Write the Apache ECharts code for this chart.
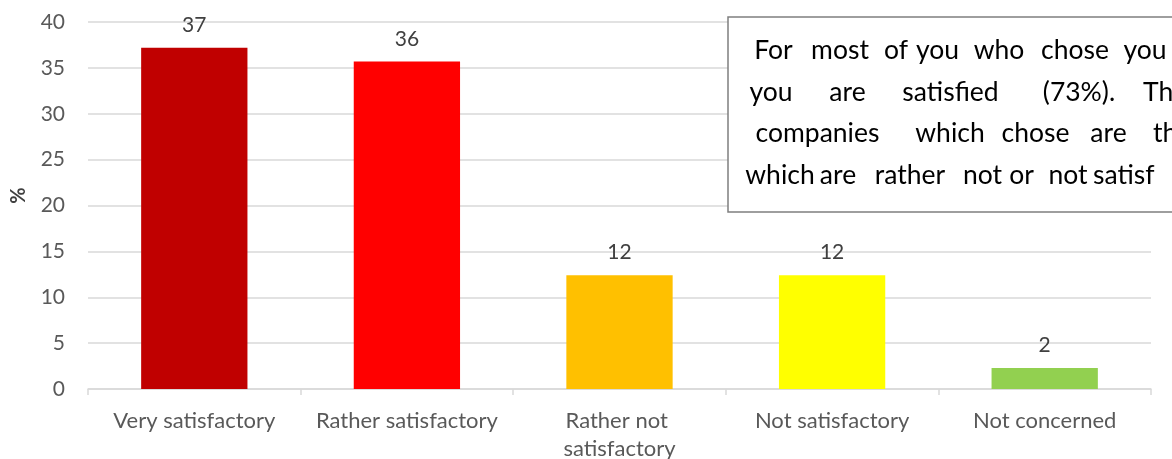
<!DOCTYPE html>
<html>
<head>
<meta charset="utf-8">
<style>
  html, body { margin: 0; padding: 0; background: #fff; }
  #chart { width: 1172px; height: 459px; }
</style>
<script src="https://cdn.jsdelivr.net/npm/echarts@6/dist/echarts.min.js"></script>
</head>
<body>
<div id="chart"></div>
<script>
// Survey answers: share of respondents (%) per satisfaction level
const categories = ['Very satisfactory', 'Rather satisfactory', 'Rather not satisfactory', 'Not satisfactory', 'Not concerned'];
const shares = [37.2, 35.7, 12.4, 12.4, 2.3];
const barColors = ['#C00000', '#FF0000', '#FFC000', '#FFFF00', '#92D050'];
const yTicks = { min: 0, max: 40, step: 5 };

// Comment box text, one entry per justified line.
// Each word: [text, left, right]; right = null for words running past the edge.
const noteLines = [
  [['For', 750, 797], ['most', 812, 868], ['of', 885, 907], ['you', 917, 958], ['who', 973, 1025], ['chose', 1042, 1108], ['you', 1120, 1170]],
  [['you', 750, 792], ['are', 827, 868], ['satisfied', 898, 1003], ['(73%).', 1033, 1125], ['Th', 1143, null]],
  [['companies', 750, 885], ['which', 915, 985], ['chose', 1003, 1068], ['are', 1087, 1130], ['th', 1153, null]],
  [['which', 750, 810], ['are', 818, 858], ['rather', 873, 947], ['not', 962, 1003], ['or', 1010, 1033], ['not', 1048, 1088], ['satisf', 1093, null]]
];

const FONT = 'Lato, "Open Sans", sans-serif';
const chart = echarts.init(document.getElementById('chart'), null, { renderer: 'canvas' });

const noteGraphics = [{
  type: 'rect',
  shape: { x: 728, y: 17, width: 520, height: 195 },
  style: { fill: '#ffffff', stroke: '#7f7f7f', lineWidth: 1.5 },
  z: 10
}];
const lineCenters = [50, 92, 133, 175];
noteLines.forEach((words, i) => {
  words.forEach(([w, left, right]) => {
    const open = right === null;
    noteGraphics.push({
      type: 'text',
      x: open ? left : (left + right) / 2,
      y: lineCenters[i],
      style: {
        text: w, fill: '#000000', font: '26.5px ' + FONT,
        textAlign: open ? 'left' : 'center', textVerticalAlign: 'middle'
      },
      z: 11
    });
  });
});

chart.setOption({
  animation: false,
  backgroundColor: '#ffffff',
  grid: { left: 88, right: 21, top: 22, bottom: 70, outerBoundsMode: 'none', containLabel: false },
  xAxis: {
    type: 'category',
    data: categories,
    axisLine: { lineStyle: { color: '#d9d9d9', width: 1.5 } },
    axisTick: { show: true, length: 6, lineStyle: { color: '#d9d9d9', width: 1.5 } },
    axisLabel: {
      color: '#595959', fontFamily: FONT, fontSize: 22, margin: 18, lineHeight: 28,
      width: 200, overflow: 'break', interval: 0
    }
  },
  yAxis: {
    type: 'value',
    min: yTicks.min, max: yTicks.max, interval: yTicks.step,
    name: '%',
    nameLocation: 'middle',
    nameRotate: 90,
    nameGap: 59,
    nameTextStyle: { color: '#404040', fontFamily: FONT, fontSize: 20, fontWeight: 'bold', padding: [0, 0, 0, 20] },
    axisLine: { show: false },
    axisTick: { show: false },
    axisLabel: { color: '#595959', fontFamily: FONT, fontSize: 21, margin: 23 },
    splitLine: { lineStyle: { color: '#d9d9d9', width: 1.5 } }
  },
  series: [{
    type: 'bar',
    data: shares.map((v, i) => ({ value: v, itemStyle: { color: barColors[i] } })),
    barWidth: '50%',
    label: {
      show: true, position: 'top', distance: 12,
      color: '#404040', fontFamily: FONT, fontSize: 21,
      formatter: p => Math.round(p.value)
    }
  }],
  graphic: noteGraphics
});
</script>
</body>
</html>
